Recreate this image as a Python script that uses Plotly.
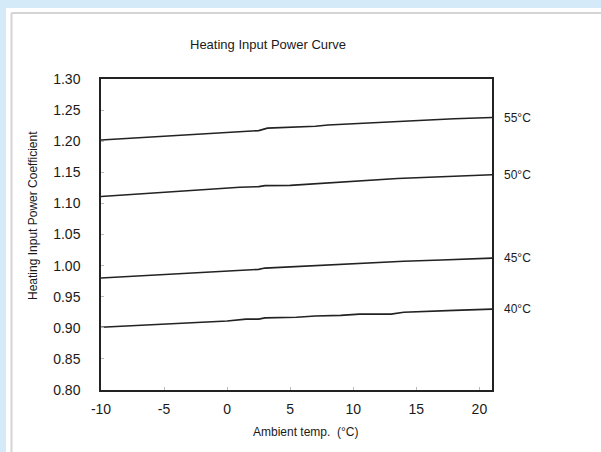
import plotly.graph_objects as go

# ---- data ----
x_55 = [-10, -5, 0, 1, 2.5, 3.2, 5, 7, 8, 10, 11, 12, 14, 16, 18, 21]
y_55 = [1.202, 1.208, 1.214, 1.216, 1.217, 1.221, 1.222, 1.224, 1.226, 1.228, 1.229, 1.231, 1.232, 1.234, 1.236, 1.238]

x_50 = [-10, -5, 0, 1, 2.5, 3, 5, 8, 10, 11, 13.5, 16, 18, 21]
y_50 = [1.111, 1.118, 1.124, 1.126, 1.127, 1.1285, 1.129, 1.133, 1.135, 1.137, 1.140, 1.142, 1.144, 1.146]

x_45 = [-10, -5, -2, 0, 1, 2.5, 3, 5, 7, 8.5, 10.5, 12, 14, 17, 21]
y_45 = [0.980, 0.986, 0.989, 0.991, 0.993, 0.994, 0.996, 0.998, 1.000, 1.001, 1.004, 1.005, 1.007, 1.009, 1.012]

x_40 = [-10, -5, -2, 0, 1.5, 2.5, 3, 5.5, 7, 9, 10.5, 13, 14, 16, 18, 21]
y_40 = [0.901, 0.906, 0.910, 0.911, 0.914, 0.914, 0.916, 0.917, 0.919, 0.920, 0.922, 0.922, 0.925, 0.926, 0.928, 0.930]

series_names = ["55°C", "50°C", "45°C", "40°C"]
series_x = [x_55, x_50, x_45, x_40]
series_y = [y_55, y_50, y_45, y_40]

x_ticks = [-10, -5, 0, 5, 10, 15, 20]
y_ticks = [0.80, 0.85, 0.90, 0.95, 1.00, 1.05, 1.10, 1.15, 1.20, 1.25, 1.30]

title_text = "Heating Input Power Curve"
x_title = "Ambient temp.  (°C)"
y_title = "Heating Input Power Coefficient"

# ---- layout geometry (pixels) ----
W, H = 601, 452
L, R, T, B = 101, 109, 79, 62
PW, PH = W - L - R, H - T - B


def px(xp):
    return (xp - L) / PW


def py(yp):
    return (H - B - yp) / PH


FONT = "Liberation Sans, Arial, sans-serif"
TXT = "#1a1a1a"
LINE = "#222222"

fig = go.Figure()
for name, xs, ys in zip(series_names, series_x, series_y):
    fig.add_trace(go.Scatter(x=xs, y=ys, mode="lines", name=name,
                             line=dict(color=LINE, width=1.6),
                             showlegend=False, hoverinfo="skip"))

annotations = []
for name, ys in zip(series_names, series_y):
    annotations.append(dict(text=name, x=px(502), xref="paper", y=ys[-1], yref="y",
                            xanchor="left", yanchor="middle", showarrow=False,
                            font=dict(family=FONT, size=12, color=TXT)))

annotations.append(dict(text=title_text, x=px(268), y=py(45), xref="paper", yref="paper",
                        xanchor="center", yanchor="middle", showarrow=False,
                        font=dict(family=FONT, size=13, color=TXT)))
annotations.append(dict(text=x_title, x=px(306), y=py(432), xref="paper", yref="paper",
                        xanchor="center", yanchor="middle", showarrow=False,
                        font=dict(family=FONT, size=12, color=TXT)))
annotations.append(dict(text=y_title, x=px(33), y=py(216), xref="paper", yref="paper",
                        xanchor="center", yanchor="middle", showarrow=False, textangle=-90,
                        font=dict(family=FONT, size=12, color=TXT)))

shapes = [
    dict(type="rect", xref="paper", yref="paper", x0=px(6), x1=px(W + 5), y0=py(8), y1=py(H + 5),
         fillcolor="white", line=dict(width=0), layer="below"),
    dict(type="line", xref="paper", yref="paper", x0=px(11.5), x1=px(11.5), y0=py(13), y1=py(H + 5),
         line=dict(color="#d4d4d4", width=2), layer="below"),
    dict(type="line", xref="paper", yref="paper", x0=px(11.5), x1=px(W + 5), y0=py(13), y1=py(13),
         line=dict(color="#d4d4d4", width=2), layer="below"),
]

fig.update_layout(
    width=W, height=H,
    margin=dict(l=L, r=R, t=T, b=B, pad=0),
    paper_bgcolor="#d5eaf8",
    plot_bgcolor="rgba(0,0,0,0)",
    annotations=annotations,
    shapes=shapes,
    xaxis=dict(range=[-10, 21], tickvals=x_ticks, ticktext=[str(v) for v in x_ticks],
               showgrid=False, zeroline=False, showline=True, mirror=True,
               linecolor="#222", linewidth=1.5, ticks="inside", ticklen=3, tickcolor="#bbbbbb",
               tickfont=dict(family=FONT, size=14, color=TXT), ticklabelstandoff=5),
    yaxis=dict(range=[0.80, 1.30], tickvals=y_ticks, ticktext=[f"{v:.2f}" for v in y_ticks],
               showgrid=False, zeroline=False, showline=True, mirror=True,
               linecolor="#222", linewidth=1.5, ticks="inside", ticklen=3, tickcolor="#bbbbbb",
               tickfont=dict(family=FONT, size=14, color=TXT), ticklabelstandoff=16),
)

fig.write_html("out.html")
